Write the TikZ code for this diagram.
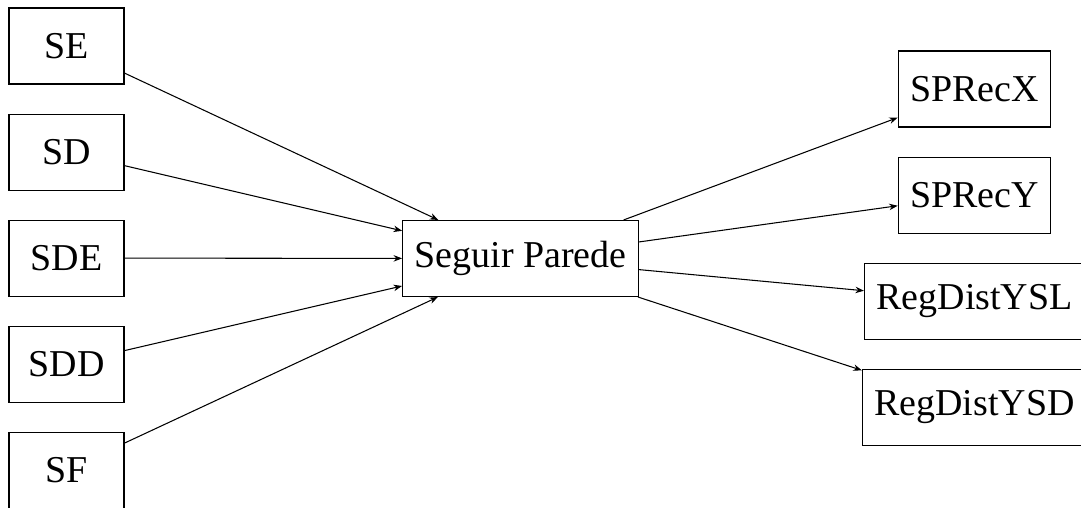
\documentclass[tikz,border=0pt]{standalone}
\usepackage{fontspec}
\setmainfont{Liberation Serif}
\usetikzlibrary{positioning,arrows.meta}

\begin{document}
\begin{tikzpicture}[
    x=0.02cm, y=-0.02cm,
    box/.style={draw, line width=0.6pt, minimum height=1.52cm, inner xsep=0.24cm, font=\fontsize{21.6}{26}\selectfont},
    sensor/.style={box, minimum width=2.3cm},
    link/.style={-{Stealth[length=1.7mm, width=1.3mm]}, line width=0.6pt}
]
    \useasboundingbox (0,0) rectangle (1081,507);
    \clip (0,0) rectangle (1081,507);

    % Sensors (left column)
    \node[sensor] (se) at (66.5,46) {SE};
    \node[sensor, below=0.58cm of se] (sd) {SD};
    \node[sensor, below=0.58cm of sd] (sde) {SDE};
    \node[sensor, below=0.58cm of sde] (sdd) {SDD};
    \node[sensor, below=0.58cm of sdd] (sf) {SF};

    % Behaviour
    \node[box] (seguir) at (520.5,258.5) {Seguir Parede};

    % Outputs (right column)
    \node[box] (sprecx) at (974.5,89) {SPRecX};
    \node[box, below=0.58cm of sprecx] (sprecy) {SPRecY};
    \node[box, below=0.58cm of sprecy] (regysl) {RegDistYSL};
    \node[box, below=0.58cm of regysl] (regysd) {RegDistYSD};

    % Inputs
    \draw[link] (se) -- (seguir);
    \draw[link] (sd) -- (seguir);
    \draw[link] (sde) -- (seguir);
    \draw[link] (sdd) -- (seguir);
    \draw[link] (sf) -- (seguir);

    % Outputs
    \draw[link] (seguir) -- (sprecx);
    \draw[link] (seguir) -- (sprecy);
    \draw[link] (seguir) -- (regysl);
    \draw[link] (seguir) -- (regysd);
\end{tikzpicture}
\end{document}
